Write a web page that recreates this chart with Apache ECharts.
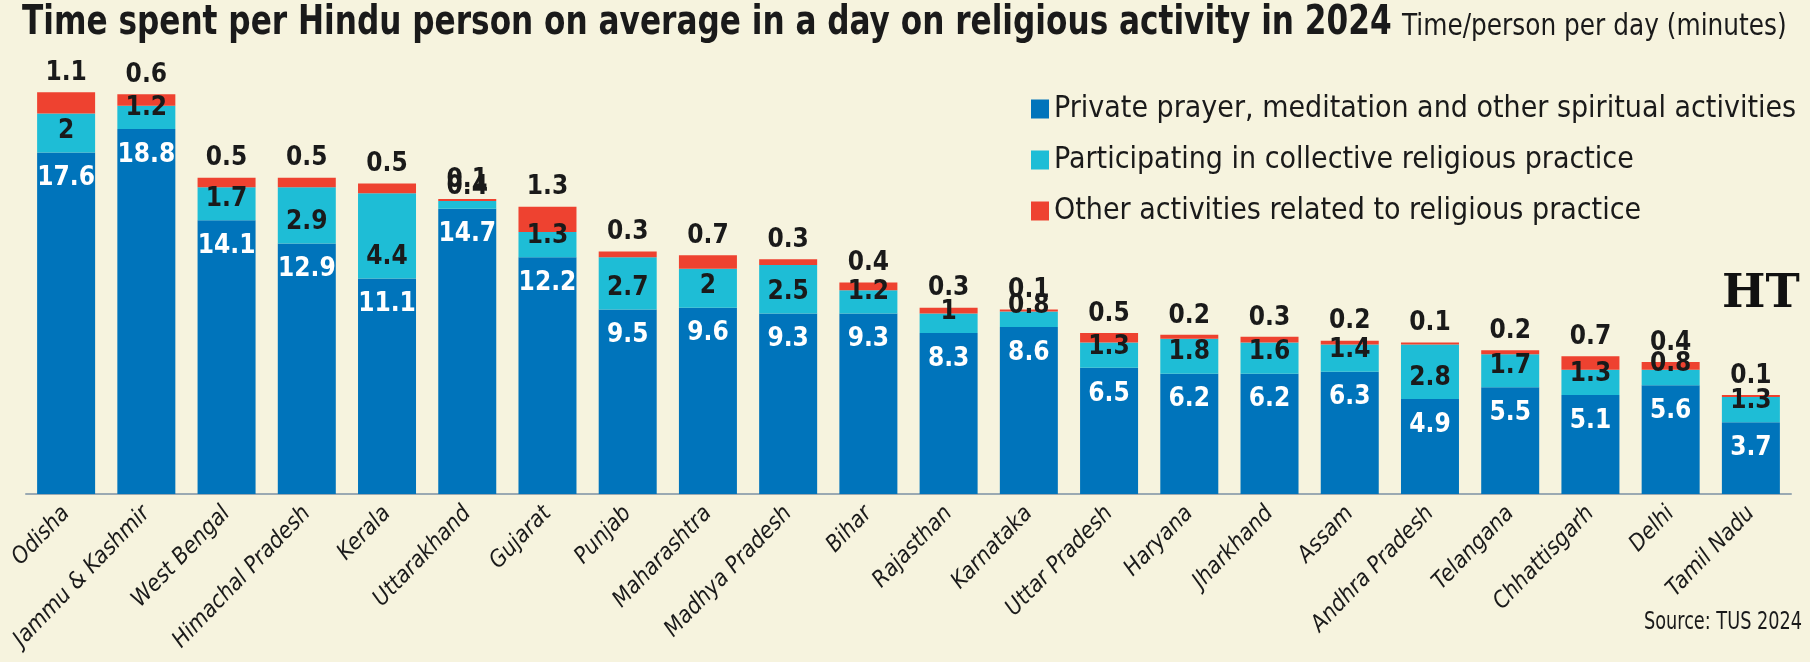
<!DOCTYPE html>
<html>
<head>
<meta charset="utf-8">
<script src="https://cdn.jsdelivr.net/npm/echarts@6/dist/echarts.min.js"></script>
<style>
  html, body { margin: 0; padding: 0; background: #f6f3de; }
  #chart { width: 1810px; height: 662px; }
</style>
</head>
<body>
<div id="chart"></div>
<script>
// --- Datos: minutos por persona al dia ---
const states = ["Odisha", "Jammu & Kashmir", "West Bengal", "Himachal Pradesh", "Kerala", "Uttarakhand",
    "Gujarat", "Punjab", "Maharashtra", "Madhya Pradesh", "Bihar", "Rajasthan", "Karnataka",
    "Uttar Pradesh", "Haryana", "Jharkhand", "Assam", "Andhra Pradesh", "Telangana",
    "Chhattisgarh", "Delhi", "Tamil Nadu"];
const privatePrayer = [17.6, 18.8, 14.1, 12.9, 11.1, 14.7, 12.2, 9.5, 9.6, 9.3, 9.3, 8.3, 8.6,
    6.5, 6.2, 6.2, 6.3, 4.9, 5.5, 5.1, 5.6, 3.7];
const collective = [2, 1.2, 1.7, 2.9, 4.4, 0.4, 1.3, 2.7, 2, 2.5, 1.2, 1, 0.8,
    1.3, 1.8, 1.6, 1.4, 2.8, 1.7, 1.3, 0.8, 1.3];
const otherActivities = [1.1, 0.6, 0.5, 0.5, 0.5, 0.1, 1.3, 0.3, 0.7, 0.3, 0.4, 0.3, 0.1,
    0.5, 0.2, 0.3, 0.2, 0.1, 0.2, 0.7, 0.4, 0.1];
const seriesNames = ["Private prayer, meditation and other spiritual activities",
    "Participating in collective religious practice",
    "Other activities related to religious practice"];

const narrow = "'DejaVu Sans Condensed', 'DejaVu Sans', sans-serif";
const ink = "#1a1a1a";
const axisGrey = "#9aa9b2";

var myChart = echarts.init(document.getElementById("chart"));

function barLabel(position, color, distance) {
    return {
        show: true,
        position: position,
        distance: distance,
        color: color,
        fontSize: 26,
        fontWeight: "bold",
        fontFamily: narrow
    };
}

myChart.setOption({
    backgroundColor: "#f6f3de",
    animation: false,
    legend: {
        orient: "vertical",
        left: 1031,
        top: 94,
        padding: 0,
        itemWidth: 18,
        itemHeight: 19,
        itemGap: 21,
        icon: "rect",
        selectedMode: false,
        textStyle: { fontSize: 30, lineHeight: 30, color: ink, fontFamily: narrow }
    },
    grid: { left: 26, right: 19, top: 67, bottom: 168, outerBoundsMode: "none", containLabel: false },
    xAxis: [
        {
            type: "category",
            data: states,
            position: "bottom",
            axisLine: { lineStyle: { color: axisGrey, width: 2 } },
            axisTick: { length: 12, lineStyle: { color: axisGrey, width: 2 } },
            axisLabel: {
                interval: 0,
                rotate: 46,
                margin: 16,
                fontSize: 23,
                fontStyle: "italic",
                color: ink,
                fontFamily: narrow
            }
        },
        {
            type: "category",
            data: states,
            position: "bottom",
            axisLine: { show: false },
            axisTick: { inside: true, length: 11, lineStyle: { color: axisGrey, width: 2 } },
            axisLabel: { show: false }
        }
    ],
    yAxis: { type: "value", min: 0, max: 22, show: false },
    series: [
        {
            name: seriesNames[0],
            type: "bar",
            stack: "total",
            barWidth: 58,
            data: privatePrayer,
            itemStyle: { color: "#0074bb" },
            label: barLabel("insideTop", "#ffffff", 13)
        },
        {
            name: seriesNames[1],
            type: "bar",
            stack: "total",
            data: collective,
            itemStyle: { color: "#1ebdd6" },
            label: barLabel("insideBottom", ink, 8)
        },
        {
            name: seriesNames[2],
            type: "bar",
            stack: "total",
            data: otherActivities,
            itemStyle: { color: "#ee4230" },
            label: barLabel("top", ink, 6)
        }
    ],
    graphic: [
        {
            // titulo comprimido horizontalmente
            type: "text",
            x: 22,
            y: 4,
            scaleX: 0.866,
            style: {
                text: "Time spent per Hindu person on average in a day on religious activity in 2024",
                fontSize: 40, fontWeight: "bold", fontFamily: narrow, fill: ink, verticalAlign: "top"
            }
        },
        {
            type: "text",
            x: 1402,
            y: 12,
            scaleX: 0.92,
            style: {
                text: "Time/person per day (minutes)",
                fontSize: 30, fontFamily: narrow, fill: ink, verticalAlign: "top"
            }
        },
        {
            type: "text",
            x: 1722,
            y: 272,
            style: { text: "HT", fontSize: 46, fontWeight: "bold", fontFamily: "'DejaVu Serif', serif", fill: "#111", verticalAlign: "top" }
        },
        {
            type: "text",
            x: 1644,
            y: 611,
            scaleX: 0.82,
            style: { text: "Source: TUS 2024", fontSize: 24, fontFamily: narrow, fill: ink, verticalAlign: "top" }
        }
    ]
});
</script>
</body>
</html>
